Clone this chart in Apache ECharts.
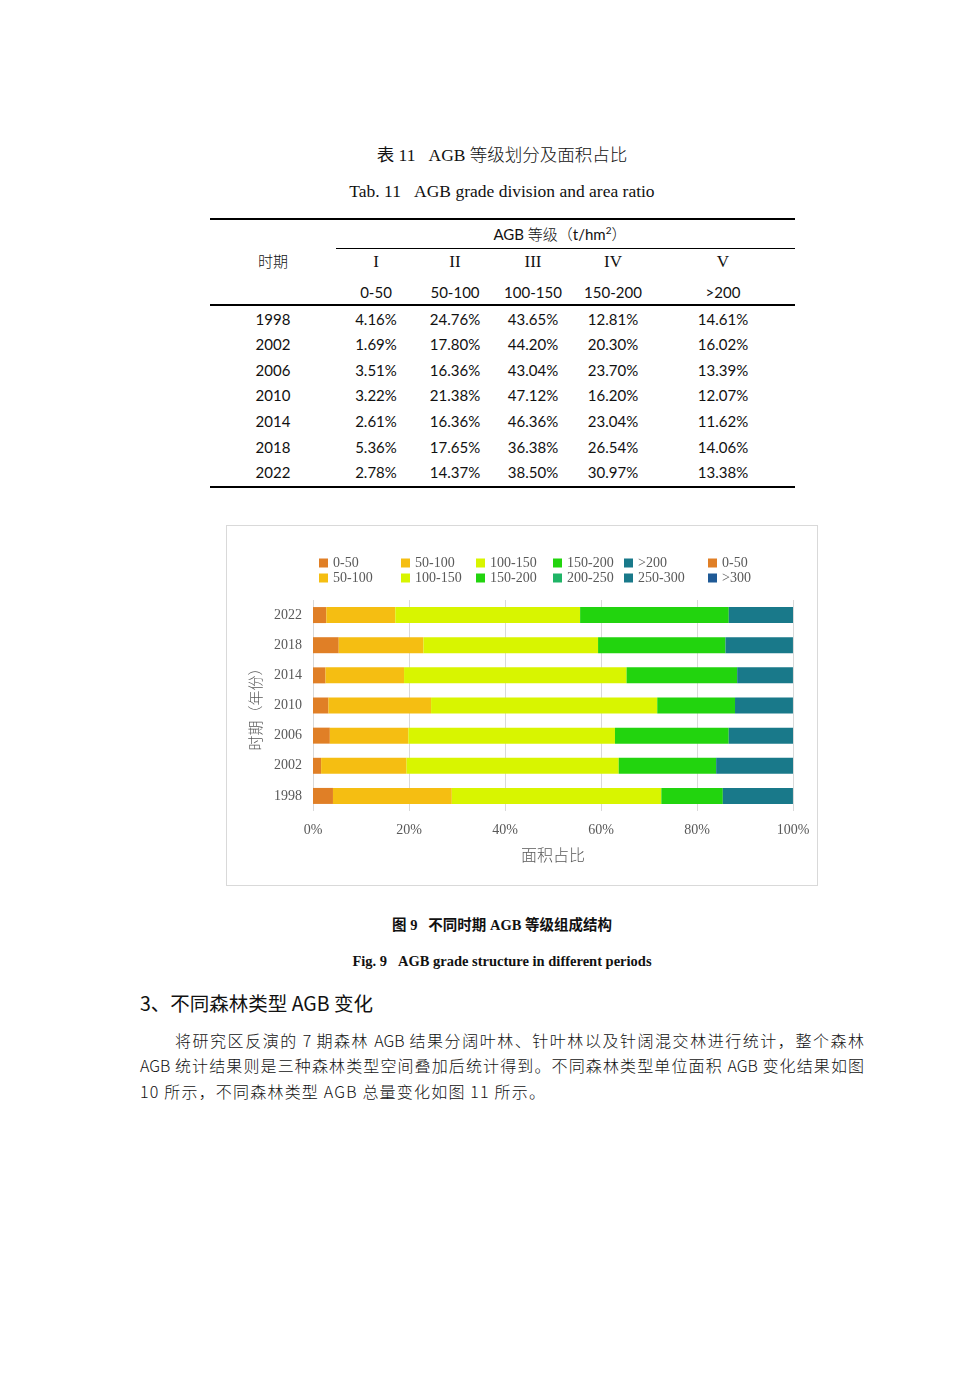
<!DOCTYPE html>
<html>
<head>
<meta charset="utf-8">
<script src="https://cdn.jsdelivr.net/npm/echarts@6/dist/echarts.min.js"></script>
<style>
  html, body { margin:0; padding:0; background:#fff; }
  body { width:980px; height:1386px; position:relative; overflow:hidden;
         font-family:"Liberation Serif","Noto Sans CJK SC",serif; color:#111; }
  .abs { position:absolute; white-space:nowrap; }
  .c { text-align:center; }
  .cell { position:absolute; width:120px; text-align:center; font-family:"Lato","Noto Sans CJK SC",sans-serif; font-size:15px; color:#111; line-height:18px; white-space:nowrap; }
  .rule { position:absolute; background:#000; }
  #frame { position:absolute; left:226px; top:525px; width:592px; height:361px; border:1px solid #d9d9d9; box-sizing:border-box; }
  #chart { position:absolute; left:0; top:0; width:590px; height:359px; }
  .para { position:absolute; left:140px; font-family:"Noto Sans CJK SC",sans-serif; font-size:16px; font-weight:300; color:#111; white-space:nowrap; line-height:22px; }
  .just { text-align:justify; text-align-last:justify; }
  .cjk { font-family:'Noto Sans CJK SC'; font-weight:300; }
</style>
</head>
<body>
<div class="abs c" style="left:0;width:1004px;top:141px;font-size:17.5px;">表 11&nbsp;&nbsp;&nbsp;AGB <span class="cjk">等级划分及面积占比</span></div>
<div class="abs c" style="left:0;width:1004px;top:181px;font-size:17.5px;">Tab. 11&nbsp;&nbsp;&nbsp;AGB grade division and area ratio</div>

<div id="table"></div>

<div id="frame"><div id="chart"></div></div>

<div class="abs c" style="left:0;width:1004px;top:913px;font-size:14.5px;font-weight:bold;">图 9&nbsp;&nbsp;&nbsp;<span style="font-family:'Noto Sans CJK SC';">不同时期</span> AGB <span style="font-family:'Noto Sans CJK SC';">等级组成结构</span></div>
<div class="abs c" style="left:0;width:1004px;top:953px;font-size:14.5px;font-weight:bold;">Fig. 9&nbsp;&nbsp;&nbsp;AGB grade structure in different periods</div>
<div class="abs" style="left:140px;top:988px;font-size:19.5px;font-family:'Noto Sans CJK SC',sans-serif;">3、不同森林类型 AGB 变化</div>
<div class="para just" style="left:175px;top:1029px;width:689px;">将研究区反演的 7 期森林 AGB 结果分阔叶林、针叶林以及针阔混交林进行统计，整个森林</div>
<div class="para just" style="top:1054px;width:724px;">AGB 统计结果则是三种森林类型空间叠加后统计得到。不同森林类型单位面积 AGB 变化结果如图</div>
<div class="para" style="top:1080px;letter-spacing:1.2px;">10 所示，不同森林类型 AGB 总量变化如图 11 所示。</div>

<script>
// ---- data ----
const years = ['1998', '2002', '2006', '2010', '2014', '2018', '2022'];
const grade1 = [4.16, 1.69, 3.51, 3.22, 2.61, 5.36, 2.78];       // 0-50
const grade2 = [24.76, 17.80, 16.36, 21.38, 16.36, 17.65, 14.37]; // 50-100
const grade3 = [43.65, 44.20, 43.04, 47.12, 46.36, 36.38, 38.50]; // 100-150
const grade4 = [12.81, 20.30, 23.70, 16.20, 23.04, 26.54, 30.97]; // 150-200
const grade5 = [14.61, 16.02, 13.39, 12.07, 11.62, 14.06, 13.38]; // >200
const gradeRoman = ['I', 'II', 'III', 'IV', 'V'];
const gradeRanges = ['0-50', '50-100', '100-150', '150-200', '>200'];
const legendLabels = ['0-50', '50-100', '100-150', '150-200', '>200', '0-50',
                      '50-100', '100-150', '150-200', '200-250', '250-300', '>300'];
const xTicks = ['0%', '20%', '40%', '60%', '80%', '100%'];

// ---- table ----
const grades = [grade1, grade2, grade3, grade4, grade5];
const colX = [376, 455, 533, 613, 723];
const rowY = [319, 344, 370, 395, 421, 447, 472];
let html = '';
html += '<div class="rule" style="left:210px;top:218px;width:585px;height:2px"></div>';
html += '<div class="rule" style="left:336px;top:248px;width:459px;height:1px"></div>';
html += '<div class="rule" style="left:210px;top:304px;width:585px;height:1.5px"></div>';
html += '<div class="rule" style="left:210px;top:486px;width:585px;height:2px"></div>';
html += '<div class="cell" style="left:460px;width:200px;top:225px;">AGB <span class="cjk">等级（</span>t/hm<sup style="font-size:10px;line-height:0">2</sup><span class="cjk">）</span></div>';
html += '<div class="cell cjk" style="left:213px;top:252px;">时期</div>';
gradeRoman.forEach((r, i) => {
  html += `<div class="cell" style="left:${colX[i]-60}px;top:253px;font-family:'Liberation Serif';font-size:17px;">${r}</div>`;
  html += `<div class="cell" style="left:${colX[i]-60}px;top:283px;">${gradeRanges[i]}</div>`;
});
years.forEach((y, r) => {
  html += `<div class="cell" style="left:213px;top:${rowY[r]-9}px;">${y}</div>`;
  grades.forEach((g, i) => {
    html += `<div class="cell" style="left:${colX[i]-60}px;top:${rowY[r]-9}px;">${g[r].toFixed(2)}%</div>`;
  });
});
document.getElementById('table').innerHTML = html;

// ---- chart ----
const colors = ['#E07F26', '#F5BE12', '#D8F500', '#22D40E', '#19798A', '#E07F26',
                '#F5BE12', '#D8F500', '#22D40E', '#1FB466', '#19798A', '#1F5A96'];
const seriesData = [grade1, grade2, grade3, grade4, grade5, [], [], [], [], [], [], []];
const series = legendLabels.map((lab, i) => ({
  name: 's' + i,
  type: 'bar',
  stack: 'all',
  data: seriesData[i],
  barWidth: 16,
  itemStyle: { color: colors[i] },
  emphasis: { disabled: true }
}));
const colLeft = [318, 400, 475, 552, 623, 707];
const legends = legendLabels.map((lab, i) => ({
  data: ['s' + i],
  left: colLeft[i % 6] - 226,
  top: (i < 6 ? 563 : 578) - 525 - 8,
  padding: 0,
  itemWidth: 9, itemHeight: 9,
  icon: 'rect',
  selectedMode: false,
  formatter: () => lab,
  textStyle: { fontFamily: 'Liberation Serif', fontSize: 14, color: '#595959' }
}));
const chart = echarts.init(document.getElementById('chart'), null, { renderer: 'canvas' });
chart.setOption({
  animation: false,
  color: colors,
  legend: legends,
  grid: { left: 86, right: 24, top: 74, bottom: 74 },
  xAxis: {
    type: 'value', min: 0, max: 100, interval: 20,
    axisLabel: { formatter: (v) => xTicks[v / 20], fontFamily: 'Liberation Serif', fontSize: 14, color: '#595959', margin: 12 },
    splitLine: { lineStyle: { color: '#d9d9d9' } },
    axisLine: { show: false }, axisTick: { show: false },
    name: '面积占比', nameLocation: 'middle', nameGap: 36,
    nameTextStyle: { fontFamily: 'Noto Sans CJK SC', fontWeight: 300, fontSize: 16, color: '#595959' }
  },
  yAxis: {
    type: 'category', data: years,
    axisLabel: { fontFamily: 'Liberation Serif', fontSize: 14, color: '#595959', margin: 11 },
    axisLine: { show: false }, axisTick: { show: false },
    name: '时期（年份）', nameLocation: 'middle', nameGap: 50, nameRotate: 90,
    nameTextStyle: { fontFamily: 'Noto Sans CJK SC', fontWeight: 300, fontSize: 15, color: '#595959' }
  },
  series: series
});
</script>
</body>
</html>
